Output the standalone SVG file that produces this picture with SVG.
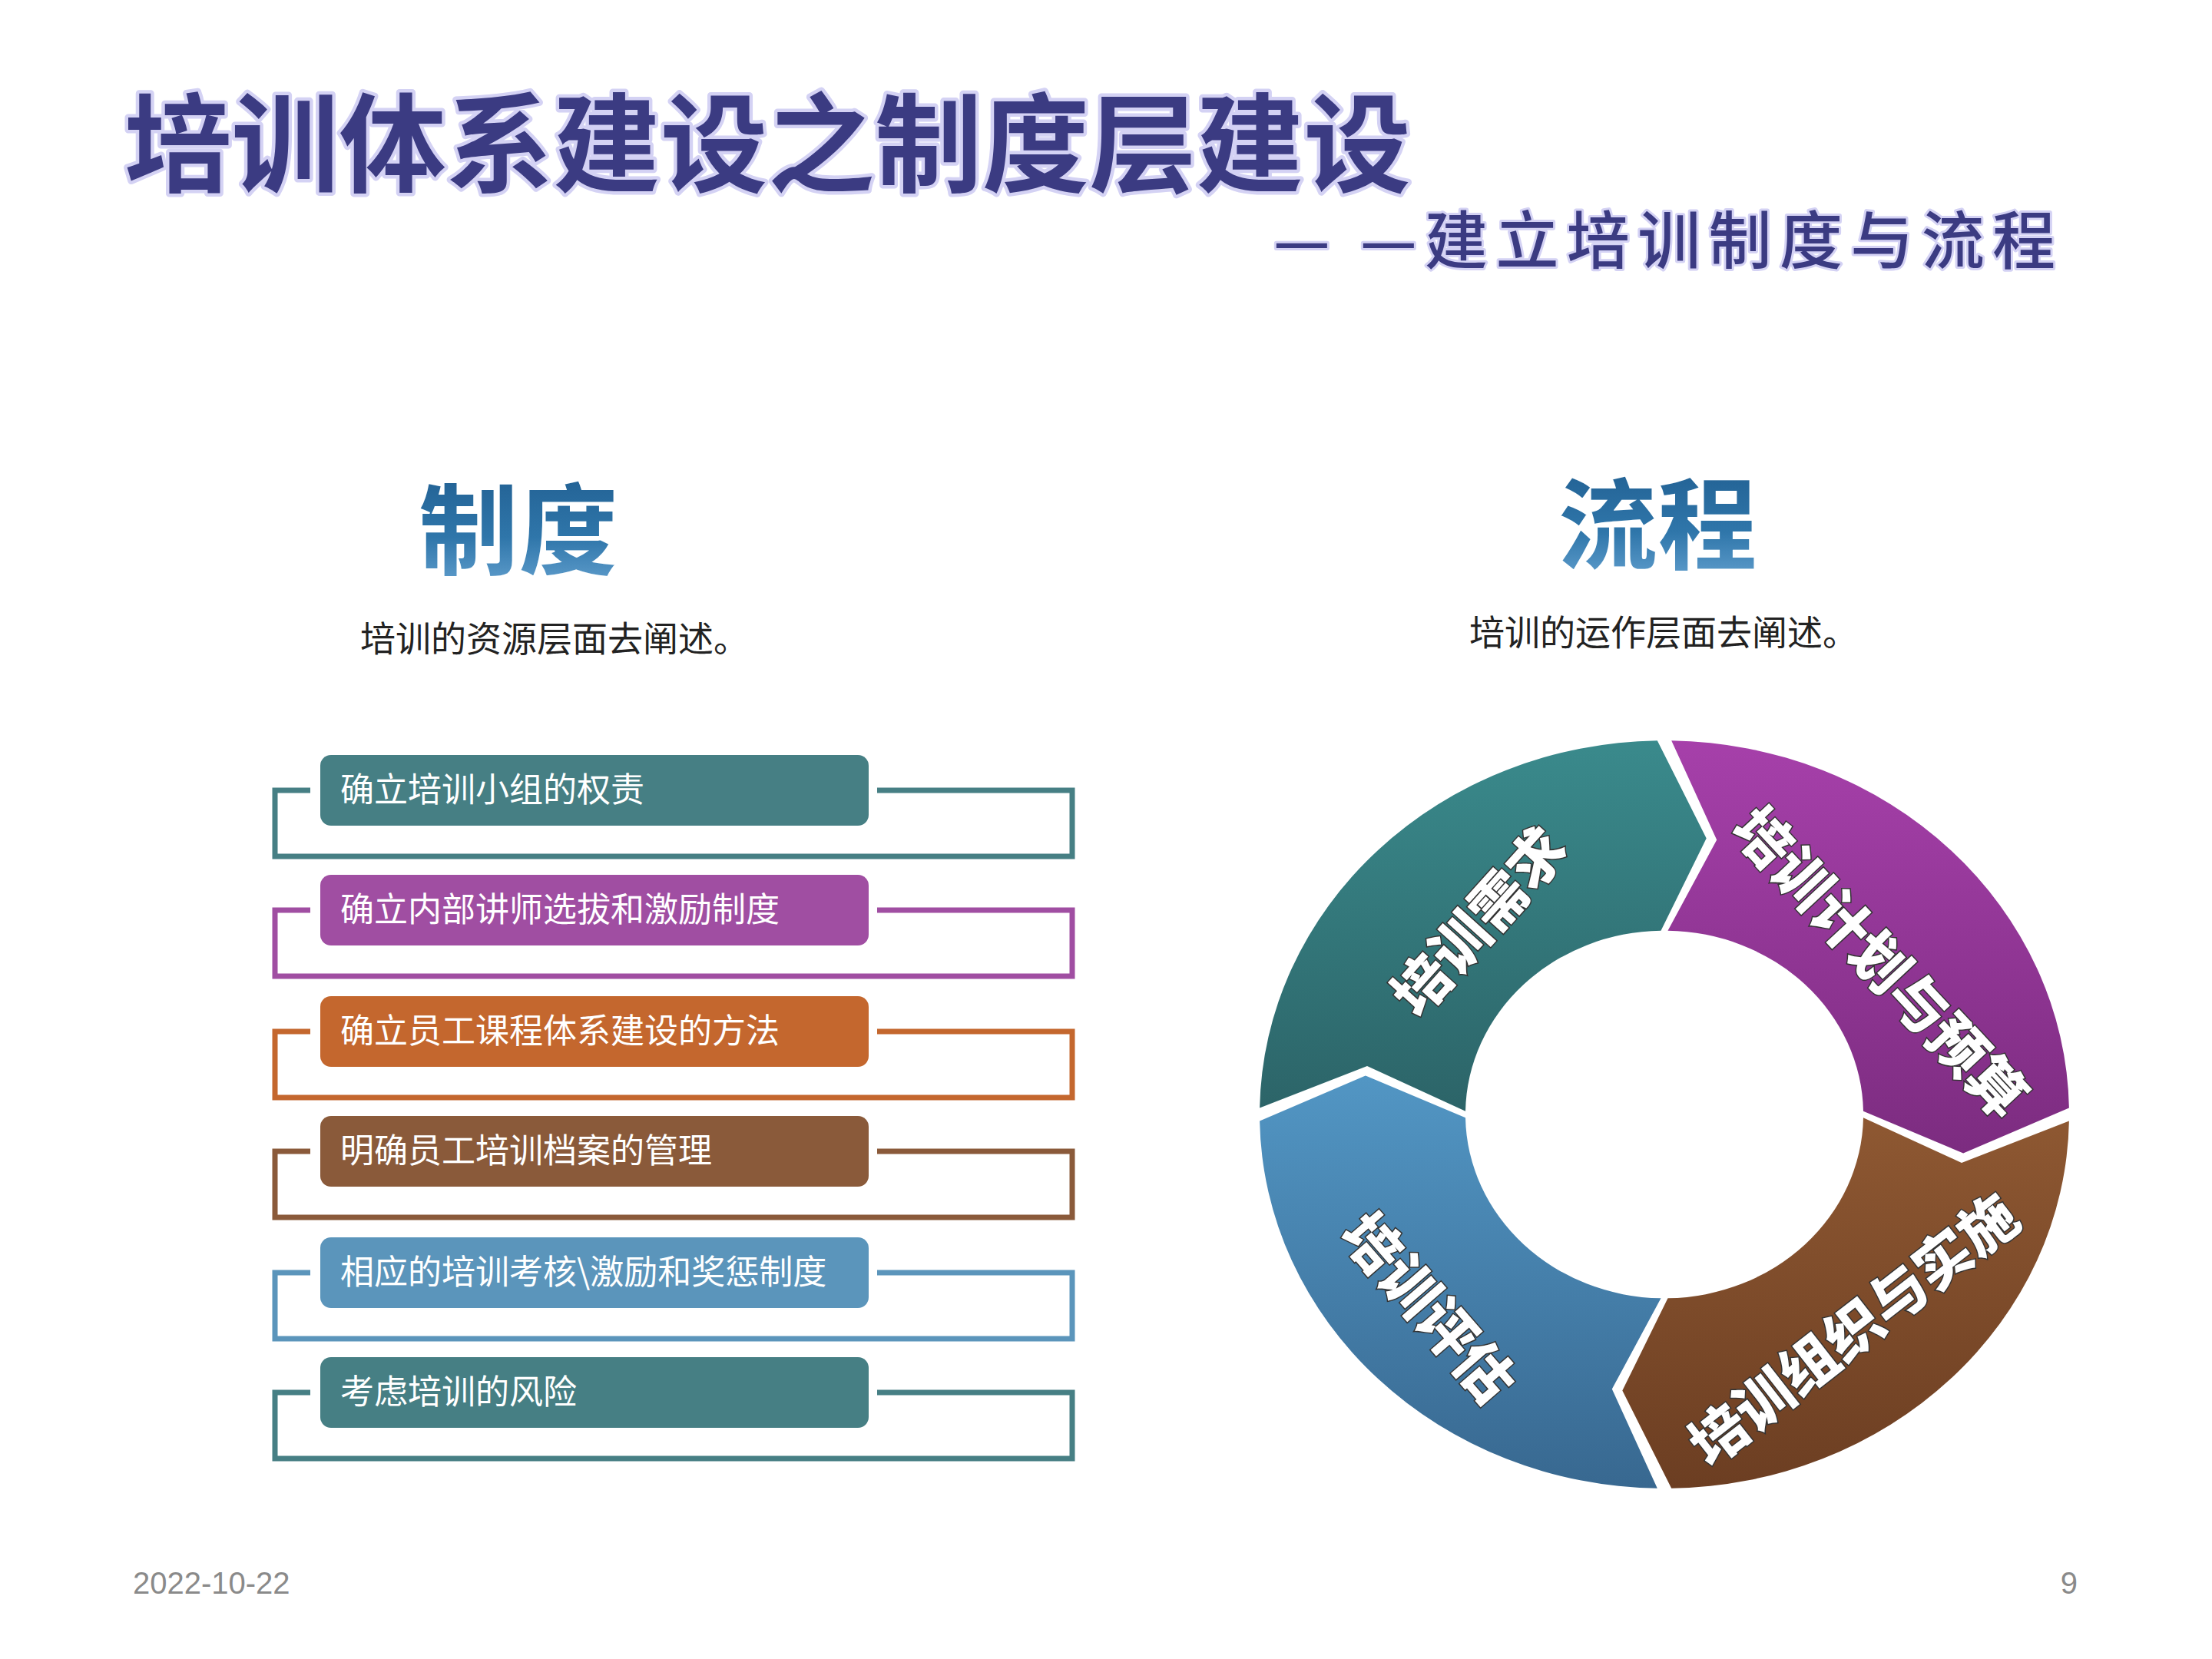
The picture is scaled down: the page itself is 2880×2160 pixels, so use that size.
<svg xmlns="http://www.w3.org/2000/svg" width="2880" height="2160" viewBox="0 0 2880 2160">
<style>
.cjk{font-family:"Noto Sans CJK SC","Noto Sans",sans-serif}
.title{font-weight:700;fill:#3b3b82;stroke:#d4d2f4;stroke-width:9;paint-order:stroke;stroke-linejoin:round}
.head{font-weight:900;fill:url(#gHead);stroke:#ffffff;stroke-width:2}
.desc{font-size:46px;fill:#222}
.item{font-size:44px;fill:#fff}
.br{fill:none;stroke-width:7}
.ring{font-size:74px;font-weight:900;fill:#fff;stroke:#333;stroke-width:3;paint-order:stroke}
.foot{font-family:"Liberation Sans",sans-serif;font-size:40px;fill:#8a8a8a}
</style>
<defs>
<linearGradient id="gHead" x1="0" y1="0" x2="0" y2="1"><stop offset="0" stop-color="#1e5a8c"/><stop offset="0.6" stop-color="#2f76aa"/><stop offset="1" stop-color="#6aa6d4"/></linearGradient>
<linearGradient id="gT" x1="0" y1="0" x2="0" y2="1"><stop offset="0" stop-color="#3a8a8c"/><stop offset="1" stop-color="#2c6468"/></linearGradient>
<linearGradient id="gP" x1="0" y1="0" x2="0" y2="1"><stop offset="0" stop-color="#a640aa"/><stop offset="1" stop-color="#7c2c80"/></linearGradient>
<linearGradient id="gB" x1="0" y1="0" x2="0" y2="1"><stop offset="0" stop-color="#8e5832"/><stop offset="1" stop-color="#6c3e22"/></linearGradient>
<linearGradient id="gL" x1="0" y1="0" x2="0" y2="1"><stop offset="0" stop-color="#5296c4"/><stop offset="1" stop-color="#386890"/></linearGradient>
</defs>
<rect width="2880" height="2160" fill="#fff"/>
<g id="title">
<text class="cjk title" x="162" y="239" font-size="140" textLength="1675" lengthAdjust="spacingAndGlyphs">培训体系建设之制度层建设</text>
<text class="cjk title" x="1658" y="343" font-size="82" textLength="1018" lengthAdjust="spacing" style="stroke-width:6;font-weight:500">— —建立培训制度与流程</text>
</g>
<g id="heads">
<text class="cjk head" x="675" y="738" font-size="130" text-anchor="middle">制度</text>
<text class="cjk desc" x="722" y="848" text-anchor="middle">培训的资源层面去阐述。</text>
<text class="cjk head" x="2158" y="731" font-size="130" text-anchor="middle">流程</text>
<text class="cjk desc" x="2166" y="840" text-anchor="middle">培训的运作层面去阐述。</text>
</g>
<g id="connectors">
<path class="br" stroke="#467f84" d="M404 1029H358V1115H1396V1029H1142"/>
<path class="br" stroke="#a04ea2" d="M404 1185H358V1271H1396V1185H1142"/>
<path class="br" stroke="#c4672e" d="M404 1343H358V1429H1396V1343H1142"/>
<path class="br" stroke="#8a5a3a" d="M404 1499H358V1585H1396V1499H1142"/>
<path class="br" stroke="#5b95bb" d="M404 1657H358V1743H1396V1657H1142"/>
<path class="br" stroke="#467f84" d="M404 1813H358V1899H1396V1813H1142"/>
</g>
<g id="item1"><rect x="417" y="983" width="714" height="92" rx="14" fill="#467f84"/><text class="cjk item" x="443" y="1044">确立培训小组的权责</text></g>
<g id="item2"><rect x="417" y="1139" width="714" height="92" rx="14" fill="#a04ea2"/><text class="cjk item" x="443" y="1200">确立内部讲师选拔和激励制度</text></g>
<g id="item3"><rect x="417" y="1297" width="714" height="92" rx="14" fill="#c4672e"/><text class="cjk item" x="443" y="1358">确立员工课程体系建设的方法</text></g>
<g id="item4"><rect x="417" y="1453" width="714" height="92" rx="14" fill="#8a5a3a"/><text class="cjk item" x="443" y="1514">明确员工培训档案的管理</text></g>
<g id="item5"><rect x="417" y="1611" width="714" height="92" rx="14" fill="#5b95bb"/><text class="cjk item" x="443" y="1672">相应的培训考核\激励和奖惩制度</text></g>
<g id="item6"><rect x="417" y="1767" width="714" height="92" rx="14" fill="#467f84"/><text class="cjk item" x="443" y="1828">考虑培训的风险</text></g>
<g id="cycle">
<g transform="translate(2167,1451) scale(1,0.924)">
<path id="seg-teal" fill="url(#gT)" d="M-526.9 -9.2A527 527 0 0 1 -9.2 -526.9L54.7 -389.2L-4.5 -259A259 259 0 0 0 -259 -4.5L-387 -68.2Z"/>
<path id="seg-purple" fill="url(#gP)" d="M9.2 -526.9A527 527 0 0 1 526.9 -9.2L389.2 54.7L259 -4.5A259 259 0 0 0 4.5 -259L68.2 -387Z"/>
<path id="seg-brown" fill="url(#gB)" d="M526.9 9.2A527 527 0 0 1 9.2 526.9L-54.7 389.2L4.5 259A259 259 0 0 0 259 4.5L387 68.2Z"/>
<path id="seg-blue" fill="url(#gL)" d="M-9.2 526.9A527 527 0 0 1 -526.9 9.2L-389.2 -54.7L-259 4.5A259 259 0 0 0 -4.5 259L-68.2 387Z"/>
</g>
<text class="cjk ring" transform="translate(1922,1196) rotate(-48)" text-anchor="middle" dominant-baseline="central">培训需求</text>
<text class="cjk ring" transform="translate(2452,1249) rotate(47)" text-anchor="middle" dominant-baseline="central">培训计划与预算</text>
<text class="cjk ring" transform="translate(2410,1727) rotate(-38)" text-anchor="middle" dominant-baseline="central">培训组织与实施</text>
<text class="cjk ring" transform="translate(1864,1699) rotate(49)" text-anchor="middle" dominant-baseline="central">培训评估</text>
</g>
<g id="footer">
<text class="foot" x="173" y="2075">2022-10-22</text>
<text class="foot" x="2705" y="2075" text-anchor="end">9</text>
</g>
</svg>
